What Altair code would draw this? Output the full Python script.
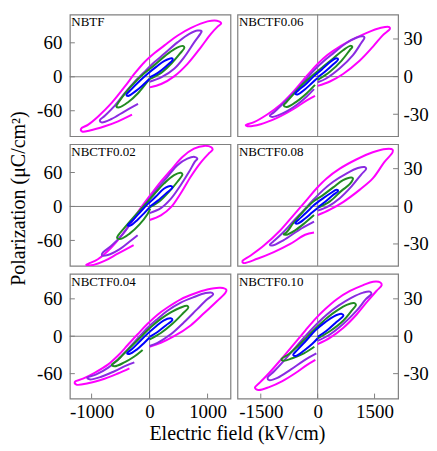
import altair as alt
import pandas as pd

SERIF = "Liberation Serif"
GRAY = "#808080"

PANEL_NAMES = ["NBTF", "NBCTF0.06", "NBCTF0.02", "NBCTF0.08", "NBCTF0.04", "NBCTF0.10"]
SERIES_COLORS = ["#FF00FF", "#8A2BE2", "#228B22", "#0000FF"]  # magenta, purple, green, blue

LEFT_X_TICKS = [-1000, 0, 1000]
RIGHT_X_TICKS = [-1500, 0, 1500]
LEFT_Y_TICKS = [-60, 0, 60]
RIGHT_Y_TICKS = [-30, 0, 30]

# ---------------- NBTF ----------------
NBTF_M = [(0,-18.7),(200,-12.8),(429,1.2),(658,23.3),(887,52.5),(1058,75.8),(1173,88.6),(1235,94.4),(1161,99.1),(1001,97.9),(715,86.3),(486,72.9),(257,55.4),(86,42),(-86,26.2),(-257,5.8),(-429,-17.5),(-658,-46.6),(-887,-70),(-1058,-84.5),(-1184,-92.1),(-1161,-96.8),(-1030,-95),(-772,-87.5),(-543,-78.7),(-303,-67)]
NBTF_P = [(0,-8.7),(200,-1.2),(429,14.6),(600,35),(772,61.2),(875,75.8),(898,80.5),(829,81.6),(686,75.8),(486,61.2),(257,41),(86,26),(-86,9),(-257,-8.7),(-429,-29),(-600,-51),(-772,-69),(-858,-77),(-829,-80.5),(-658,-74.6),(-429,-61),(-200,-48)]
NBTF_G = [(0,-4),(200,7),(372,23),(515,40),(600,51.5),(575,54.5),(429,49),(257,36),(86,21),(-86,6.5),(-257,-10),(-429,-30),(-540,-46),(-572,-52.5),(-520,-54),(-372,-45),(-200,-29),(-57,-11),(0,-4)]
NBTF_B = [(0,-1.2),(143,7),(286,18.7),(400,30.3),(383,32.6),(257,28),(114,17.5),(-29,5.8),(-172,-7.6),(-315,-22.2),(-400,-32),(-372,-33.8),(-229,-24.5),(-114,-14.6),(0,-3.5)]

# ---------------- NBCTF0.02 ----------------
C02_M = [(0,-23.9),(194,-15.7),(366,-1.7),(538,23.3),(709,52.5),(881,77.5),(1024,93.9),(1087,100.3),(1064,104.5),(938,107),(766,102),(566,87.5),(366,64),(194,43.7),(51,25),(-92,5.8),(-263,-19.2),(-435,-44.9),(-664,-72.9),(-892,-93.3),(-1052,-101),(-1093,-103),(-1007,-104),(-778,-96.2),(-549,-83.4),(-275,-68.2)]
C02_P = [(0,-11.7),(194,-2.9),(366,13.4),(538,37.9),(681,61.2),(778,78.7),(824,84.5),(778,87.5),(652,84.5),(480,72.9),(309,52.5),(137,32.1),(-6,13.4),(-149,-5.8),(-320,-29.2),(-492,-52.5),(-664,-70),(-807,-81.6),(-824,-86.3),(-721,-85.7),(-521,-75.8),(-349,-62.4),(-206,-50.7)]
C02_G = [(0,-1.7),(166,8.7),(337,26.2),(480,43.7),(566,56.6),(538,59.5),(423,55.4),(252,40.8),(80,21.6),(-92,1.7),(-263,-17.5),(-435,-37.9),(-538,-50.7),(-561,-55.4),(-492,-57.1),(-349,-48.4),(-177,-32.1),(-34,-13.4),(10,-4)]
C02_B = [(0,-0.6),(137,9.9),(280,22.7),(395,33.8),(366,36.1),(240,30.9),(109,17.5),(-34,4.1),(-177,-11.7),(-309,-26.2),(-378,-33.2),(-332,-33.8),(-206,-23.3),(-92,-11.7),(0,-1.7)]

# ---------------- NBCTF0.04 ----------------
C04_M = [(0,-16.8),(194,-10.5),(423,0),(708,17.3),(937,36.7),(1165,56.6),(1308,69.7),(1325,74.4),(1222,77.6),(994,74.9),(765,68.1),(537,59.2),(308,46.1),(137,34.6),(-34,19.9),(-206,3.1),(-377,-14.1),(-548,-31.4),(-719,-45.6),(-948,-58.7),(-1148,-68.1),(-1290,-73.4),(-1262,-77.6),(-1062,-75.5),(-777,-68.1),(-548,-59.7),(-348,-51.4)]
C04_P = [(0,-15.7),(137,-10.5),(365,3.1),(594,22.5),(822,43.5),(994,59.2),(1096,67.1),(1079,69.7),(965,69.2),(765,62.9),(537,54),(308,40.9),(137,27.8),(-34,13.6),(-206,-3.7),(-377,-21),(-548,-37.7),(-719,-50.8),(-919,-61.3),(-1074,-66.5),(-1034,-69.2),(-834,-65),(-605,-56.1),(-405,-47.2),(-263,-41.9)]
C04_G = [(0,-5.2),(194,5.2),(394,19.9),(565,35.6),(668,46.1),(651,48.7),(537,46.1),(365,38.3),(194,27.8),(23,14.7),(-148,-1),(-320,-16.8),(-463,-29.9),(-577,-40.3),(-651,-45.6),(-605,-48.2),(-434,-41.9),(-263,-32.5),(-120,-22)]
C04_B = [(0,-1),(137,6.8),(280,17.3),(394,26.2),(365,28.8),(240,25.2),(108,15.7),(-34,4.2),(-177,-8.9),(-308,-21),(-388,-27.2),(-348,-28.3),(-217,-21),(-103,-11.5),(0,-2.1)]

# ---------------- NBCTF0.06 ----------------
C06_M = [(0,-7.4),(322,-3.9),(670,2.1),(1105,12.6),(1453,23.7),(1714,32.9),(1905,38.1),(1888,39.5),(1670,38.9),(1279,34.7),(844,28.4),(409,20.5),(148,14.5),(-113,6.6),(-374,-2.6),(-635,-11.8),(-983,-22.4),(-1331,-30.2),(-1679,-36.3),(-1897,-38.7),(-1853,-39.5),(-1505,-37.9),(-1070,-32.9),(-635,-25.8),(-287,-18.9),(-70,-15.3)]
C06_P = [(0,-4.5),(235,-1.3),(583,6.6),(931,17.1),(1148,26.8),(1235,31),(1192,32.1),(1018,31),(757,26.8),(409,18.5),(148,12),(-113,4.5),(-374,-4.5),(-635,-13),(-896,-21),(-1157,-28.5),(-1262,-31),(-1201,-32.1),(-896,-28.9),(-548,-22.4),(-287,-15.8),(-96,-10)]
C06_G = [(0,-2.6),(322,3.9),(626,12.6),(844,21),(914,23.7),(861,24.5),(670,21),(409,14.5),(148,8),(-113,1.5),(-374,-5.5),(-635,-14),(-827,-20.5),(-896,-23.1),(-809,-24.2),(-548,-19.7),(-287,-13.2),(-70,-6.6)]
C06_B = [(0,-0.5),(191,3.9),(391,9.2),(539,13.7),(496,14.7),(322,11.5),(104,5.5),(-113,0),(-331,-6.5),(-505,-10.8),(-592,-13.7),(-531,-14.2),(-331,-10),(-157,-5.3),(0,-1)]

# ---------------- NBCTF0.08 ----------------
C08_M = [(0,-7),(322,-2.6),(670,3.4),(1105,13.1),(1453,22.2),(1757,35.2),(1975,43.1),(1975,45.2),(1801,45.7),(1453,43.1),(1018,37.3),(583,30),(235,22.2),(-26,14.4),(-287,5.2),(-635,-7),(-983,-19.1),(-1418,-31.3),(-1766,-39.2),(-1984,-43.6),(-1958,-45.2),(-1592,-41.8),(-1157,-36.5),(-722,-30),(-331,-22.7),(-96,-20.9)]
C08_P = [(0,-3.4),(278,0),(583,6.5),(887,15.7),(1148,25.3),(1279,30),(1235,31.3),(1061,30.5),(757,26.1),(409,19.6),(148,13.1),(-113,5.2),(-374,-3.4),(-635,-11.7),(-940,-21.7),(-1175,-28.2),(-1262,-30.5),(-1201,-31.3),(-896,-26.9),(-505,-19.1),(-96,-12.3)]
C08_G = [(0,-1.3),(322,3.9),(626,12.3),(844,17.7),(931,22.2),(887,23),(670,20.9),(409,15.1),(148,9.1),(-113,3.9),(-374,-3.9),(-635,-13.1),(-827,-20.9),(-896,-22.2),(-827,-22.7),(-592,-19.1),(-331,-13.1),(-96,-7)]
C08_B = [(0,-0.8),(191,3.4),(391,8.6),(539,12.3),(500,13.2),(339,10.4),(148,6.5),(-96,1),(-305,-5.2),(-505,-10.7),(-592,-13.3),(-531,-13.8),(-331,-9.7),(-148,-5),(0,-1.3)]

# ---------------- NBCTF0.10 ----------------
C10_M = [(0,-6.3),(331,-1.1),(679,6.8),(1027,17.4),(1288,27.1),(1549,36.3),(1688,41),(1653,43.1),(1462,43.7),(1201,41),(853,36.3),(505,29.7),(200,21.8),(-61,13.9),(-322,4.7),(-626,-6.3),(-974,-18.9),(-1279,-29.5),(-1514,-36.8),(-1653,-41.3),(-1566,-43.1),(-1279,-40.8),(-931,-36),(-583,-29.5),(-278,-22.9),(-61,-18.9)]
C10_P = [(0,-3.7),(331,1.6),(679,10),(1027,20.5),(1270,29.7),(1418,34.2),(1375,35.8),(1201,35),(896,31),(548,24.5),(244,17.4),(-17,10),(-278,1.6),(-583,-8.9),(-887,-19.5),(-1148,-28.1),(-1322,-33.4),(-1279,-35.2),(-1061,-33.4),(-713,-26.8),(-365,-19.5),(-35,-13.7)]
C10_G = [(0,-1.8),(331,4.2),(679,12.6),(896,20.5),(1009,25.2),(957,26.6),(766,25.2),(505,20.5),(244,14.7),(-17,7.4),(-278,-0.5),(-539,-8.4),(-757,-14.2),(-957,-18.4),(-905,-19.7),(-670,-17.6),(-365,-13.7),(-87,-8.4)]
C10_B = [(0,-0.5),(226,4.2),(461,10.5),(679,16.6),(635,17.9),(418,15.8),(200,11.3),(-61,4.7),(-296,-3.2),(-522,-10.5),(-644,-15),(-583,-15.8),(-365,-11.6),(-148,-6.3),(0,-1.6)]

LEFT_X_DOMAIN = [-1375, 1395]
RIGHT_X_DOMAIN = [-2115, 2120]
Y_DOMAINS_LEFT = [[-105, 110], [-105, 110], [-100, 100]]
Y_DOMAINS_RIGHT = [[-47.5, 49.5], [-47.5, 49.5], [-50, 50]]
HEIGHTS = [122, 122, 125]
W_LEFT, W_RIGHT = 161, 161
LABEL_EXPR = "'' + datum.value"


def make_panel(name, loops, xdom, ydom, xticks, yticks, side, row, W, H):
    bottom = row == 2
    xs = alt.Scale(domain=xdom, nice=False, zero=False)
    ys = alt.Scale(domain=ydom, nice=False, zero=False)
    if bottom:
        xkw = dict(values=xticks, ticks=False, tickSize=0, domain=False, grid=False,
                   labelFont=SERIF, labelFontSize=19, labelColor="black",
                   labelPadding=4, labelFlush=False, labelExpr=LABEL_EXPR)
        if side == "left":
            xaxis = alt.Axis(title="Electric field (kV/cm)", titleFont=SERIF, titleFontSize=20,
                             titleFontWeight="normal", titleColor="black", titlePadding=2,
                             titleX=167.5, **xkw)
        else:
            xaxis = alt.Axis(title=None, **xkw)
    else:
        xaxis = None
    ykw = dict(values=yticks, ticks=False, tickSize=0, domain=False, grid=False,
               labelFont=SERIF, labelFontSize=19, labelColor="black", labelFlush=False,
               labelExpr=LABEL_EXPR, orient=side)
    if side == "left" and row == 1:
        yaxis = alt.Axis(labelPadding=8, title="Polarization (μC/cm²)", titleFont=SERIF,
                         titleFontSize=20, titleFontWeight="normal", titleColor="black",
                         titlePadding=8, titleY=54, **ykw)
    elif side == "left":
        yaxis = alt.Axis(labelPadding=8, title=None, **ykw)
    else:
        yaxis = alt.Axis(labelPadding=5, title=None, **ykw)

    def X(f):
        return alt.X(f, scale=xs, axis=xaxis)

    def Y(f):
        return alt.Y(f, scale=ys, axis=yaxis)

    layers = []
    zero = pd.DataFrame({"v": [0]})
    layers.append(alt.Chart(zero).mark_rule(color=GRAY, strokeWidth=1).encode(x=X("v:Q")))
    layers.append(alt.Chart(zero).mark_rule(color=GRAY, strokeWidth=1).encode(y=Y("v:Q")))
    yt = pd.DataFrame({"v": yticks})
    if side == "left":
        layers.append(alt.Chart(yt).mark_rule(color=GRAY, strokeWidth=1).encode(
            y=Y("v:Q"), x=alt.value(0), x2=alt.value(5)))
    else:
        layers.append(alt.Chart(yt).mark_rule(color=GRAY, strokeWidth=1).encode(
            y=Y("v:Q"), x=alt.value(W - 5), x2=alt.value(W)))
    if bottom:
        xt = pd.DataFrame({"v": xticks})
        layers.append(alt.Chart(xt).mark_rule(color=GRAY, strokeWidth=1).encode(
            x=X("v:Q"), y=alt.value(H - 5), y2=alt.value(H)))
    for pts, col in zip(loops, SERIES_COLORS):
        df = pd.DataFrame({"E": [p[0] for p in pts], "P": [p[1] for p in pts],
                           "i": list(range(len(pts)))})
        layers.append(alt.Chart(df).mark_line(interpolate="catmull-rom", strokeWidth=2,
                                              color=col, clip=True).encode(
            x=X("E:Q"), y=Y("P:Q"), order="i:Q"))
    layers.append(alt.Chart(pd.DataFrame({"t": [name]})).mark_text(
        align="left", baseline="alphabetic", font=SERIF, fontSize=13, color="black").encode(
        x=alt.value(1.5), y=alt.value(12), text="t:N"))
    return alt.layer(*layers).properties(width=W, height=H)


LOOPS = [
    [NBTF_M, NBTF_P, NBTF_G, NBTF_B],
    [C06_M, C06_P, C06_G, C06_B],
    [C02_M, C02_P, C02_G, C02_B],
    [C08_M, C08_P, C08_G, C08_B],
    [C04_M, C04_P, C04_G, C04_B],
    [C10_M, C10_P, C10_G, C10_B],
]

panels = []
for r in range(3):
    panels.append(make_panel(PANEL_NAMES[2 * r], LOOPS[2 * r], LEFT_X_DOMAIN, Y_DOMAINS_LEFT[r],
                             LEFT_X_TICKS, LEFT_Y_TICKS, "left", r, W_LEFT, HEIGHTS[r]))
    panels.append(make_panel(PANEL_NAMES[2 * r + 1], LOOPS[2 * r + 1], RIGHT_X_DOMAIN,
                             Y_DOMAINS_RIGHT[r], RIGHT_X_TICKS, RIGHT_Y_TICKS, "right", r,
                             W_RIGHT, HEIGHTS[r]))

chart = alt.concat(*panels, columns=2, spacing={"row": 8, "column": 7},
                   bounds="flush", align="each").properties(
    padding={"left": 0, "top": 4, "right": 0, "bottom": 0}
).configure_view(stroke=GRAY, strokeWidth=1.2)

chart.save("out.html", embed_options={"renderer": "svg", "actions": False})
